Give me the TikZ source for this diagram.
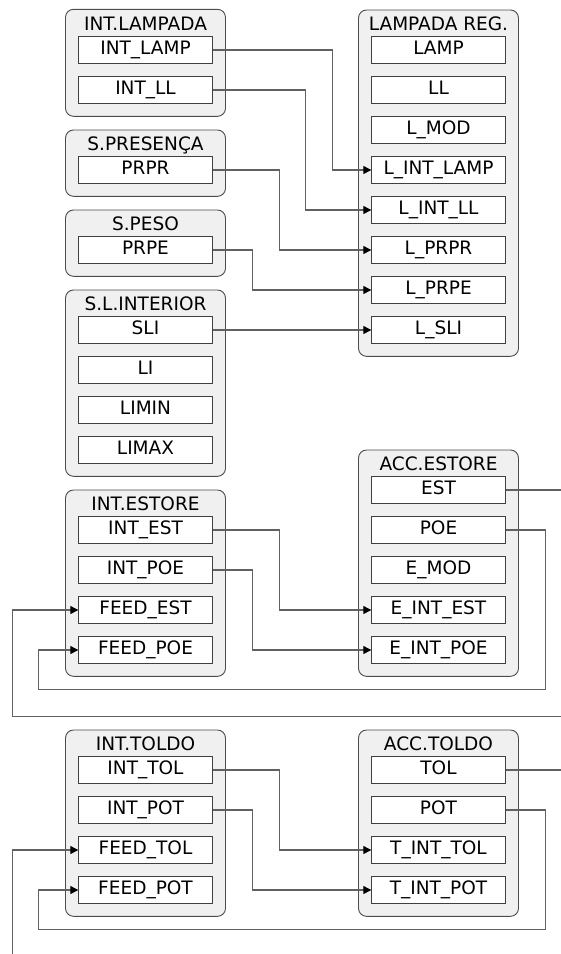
\documentclass[tikz,border=0pt]{standalone}
\usepackage{fontspec}
\setmainfont{DejaVu Sans}
\usetikzlibrary{arrows.meta}

\begin{document}
\begin{tikzpicture}[x=1pt, y=-1pt,
group/.style={rectangle, draw=black!70, fill=black!6, rounded corners=8pt, minimum width=160pt, line width=0.9pt},
field/.style={rectangle, draw=black!75, fill=white, minimum width=133.5pt, minimum height=26.7pt, inner sep=0pt, text height=13pt, text depth=5pt, font=\fontsize{18.5}{20}\selectfont, line width=0.9pt},
title/.style={anchor=base, inner sep=0pt, font=\fontsize{18.5}{20}\selectfont},
link/.style={draw=black!62, line width=1.25pt, -{Triangle[length=8pt, width=8pt, color=black]}}
]
\useasboundingbox (0,0) rectangle (561,954);
% groups
\node[group, minimum height=107pt] (gintlamp) at (145.5,62.8) {};
\node[group, minimum height=66.3pt] (gpres) at (145.5,163.15) {};
\node[group, minimum height=66.3pt] (gpeso) at (145.5,243.15) {};
\node[group, minimum height=186.3pt] (ginter) at (145.5,383.15) {};
\node[group, minimum height=346.3pt] (glreg) at (438.5,183.15) {};
\node[group, minimum height=226.3pt] (gaccest) at (438.5,563.15) {};
\node[group, minimum height=186.3pt] (gintest) at (145.5,583.15) {};
\node[group, minimum height=186.3pt] (ginttol) at (145.5,823.15) {};
\node[group, minimum height=186.3pt] (gacctol) at (438.5,823.15) {};
% titles
\node[title] (tintlamp) at (145.5,30) {INT.LAMPADA};
\node[title] (tpres) at (145.5,150) {S.PRESENÇA};
\node[title] (tpeso) at (145.5,230) {S.PESO};
\node[title] (tinter) at (145.5,310) {S.L.INTERIOR};
\node[title] (tlreg) at (438.5,30) {LAMPADA REG.};
\node[title] (taccest) at (438.5,470) {ACC.ESTORE};
\node[title] (tintest) at (145.5,510) {INT.ESTORE};
\node[title] (tinttol) at (145.5,750) {INT.TOLDO};
\node[title] (tacctol) at (438.5,750) {ACC.TOLDO};
% fields, left column
\node[field] (intlamp) at (145.5,50) {INT\_LAMP};
\node[field] (intll) at (145.5,90) {INT\_LL};
\node[field] (prpr) at (145.5,170) {PRPR};
\node[field] (prpe) at (145.5,250) {PRPE};
\node[field] (sli) at (145.5,330) {SLI};
\node[field] (li) at (145.5,370) {LI};
\node[field] (limin) at (145.5,410) {LIMIN};
\node[field] (limax) at (145.5,450) {LIMAX};
\node[field] (intest) at (145.5,530) {INT\_EST};
\node[field] (intpoe) at (145.5,570) {INT\_POE};
\node[field] (feedest) at (145.5,610) {FEED\_EST};
\node[field] (feedpoe) at (145.5,650) {FEED\_POE};
\node[field] (inttol) at (145.5,770) {INT\_TOL};
\node[field] (intpot) at (145.5,810) {INT\_POT};
\node[field] (feedtol) at (145.5,850) {FEED\_TOL};
\node[field] (feedpot) at (145.5,890) {FEED\_POT};
% fields, right column
\node[field] (lamp) at (438.5,50) {LAMP};
\node[field] (ll) at (438.5,90) {LL};
\node[field] (lmod) at (438.5,130) {L\_MOD};
\node[field] (lintlamp) at (438.5,170) {L\_INT\_LAMP};
\node[field] (lintll) at (438.5,210) {L\_INT\_LL};
\node[field] (lprpr) at (438.5,250) {L\_PRPR};
\node[field] (lprpe) at (438.5,290) {L\_PRPE};
\node[field] (lsli) at (438.5,330) {L\_SLI};
\node[field] (est) at (438.5,490) {EST};
\node[field] (poe) at (438.5,530) {POE};
\node[field] (emod) at (438.5,570) {E\_MOD};
\node[field] (eintest) at (438.5,610) {E\_INT\_EST};
\node[field] (eintpoe) at (438.5,650) {E\_INT\_POE};
\node[field] (tol) at (438.5,770) {TOL};
\node[field] (pot) at (438.5,810) {POT};
\node[field] (tinttolf) at (438.5,850) {T\_INT\_TOL};
\node[field] (tintpotf) at (438.5,890) {T\_INT\_POT};
% connectors
\begin{scope}
\clip (0,0) rectangle (561,954);
\draw[link] (intlamp.east) -- ++(120,0) |- (lintlamp.west);
\draw[link] (intll.east) -- ++(93,0) |- (lintll.west);
\draw[link] (prpr.east) -- ++(66.5,0) |- (lprpr.west);
\draw[link] (prpe.east) -- ++(40,0) |- (lprpe.west);
\draw[link] (sli.east) -- (lsli.west);
\draw[link] (intest.east) -- ++(66.5,0) |- (eintest.west);
\draw[link] (intpoe.east) -- ++(40,0) |- (eintpoe.west);
\draw[link] (poe.east) -- ++(40,0) |- (38.6,689.3) |- (feedpoe.west);
\draw[link] (est.east) -- ++(70,0) |- (12.5,716.7) |- (feedest.west);
\draw[link] (inttol.east) -- ++(66.5,0) |- (tinttolf.west);
\draw[link] (intpot.east) -- ++(40,0) |- (tintpotf.west);
\draw[link] (pot.east) -- ++(40,0) |- (38.6,929.3) |- (feedpot.west);
\draw[link] (tol.east) -- ++(70,0) |- (12.5,975) |- (feedtol.west);
\end{scope}
\end{tikzpicture}
\end{document}
